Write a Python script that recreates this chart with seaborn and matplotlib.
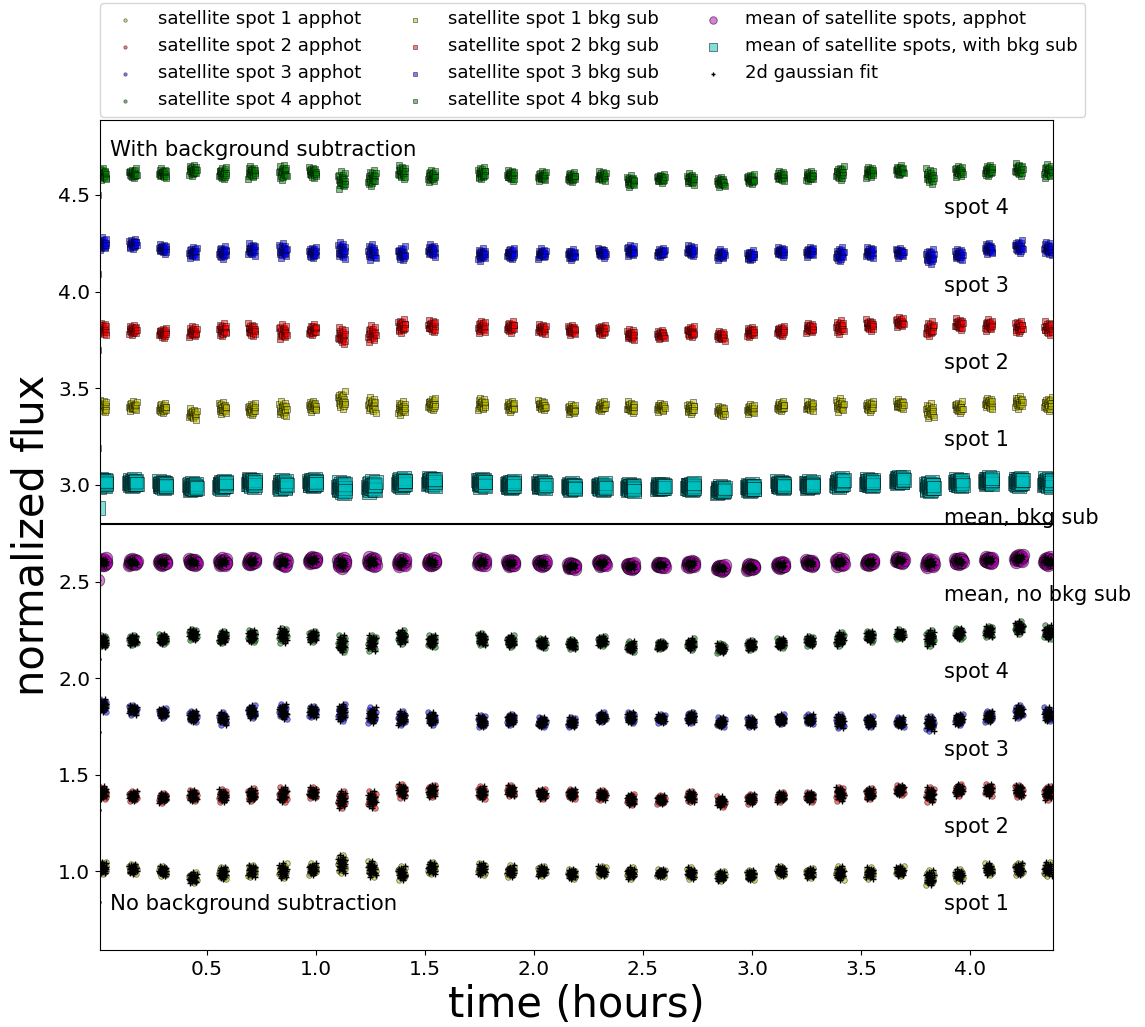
import numpy as np
import pandas as pd
import seaborn as sns
import matplotlib
matplotlib.use("Agg")
import matplotlib.pyplot as plt

# centre time (hours) of each exposure cluster
cluster_hours = [0.023, 0.161, 0.298, 0.436, 0.573, 0.706, 0.849, 0.986, 1.119, 1.257,
                 1.394, 1.532, 1.761, 1.894, 2.037, 2.174, 2.312, 2.445, 2.583, 2.720,
                 2.858, 2.995, 3.133, 3.266, 3.404, 3.541, 3.679, 3.817, 3.950, 4.087,
                 4.225, 4.358]
first_hour = 0.0
# relative scatter size of each cluster
cluster_spread = [1.0, 0.8, 0.8, 0.9, 1.0, 1.0, 1.2, 0.9, 1.4, 1.3, 1.1, 1.0, 1.0, 0.9, 0.8, 0.8,
                  0.8, 0.9, 0.7, 0.9, 0.8, 0.8, 0.8, 0.8, 1.1, 0.9, 0.8, 1.2, 0.9, 0.9, 1.0, 1.1]
# exposure pattern inside one cluster
dt_pattern = [-0.017, -0.015, -0.013, -0.012, -0.010, -0.008, -0.007, -0.005, -0.003, -0.002,
              0.000, 0.002, 0.004, 0.005, 0.007, 0.009, 0.011, 0.012, 0.014, 0.016]
df_pattern = [0.012, -0.008, 0.020, -0.015, 0.004, -0.022, 0.009, 0.027, -0.003, -0.012,
              0.016, -0.030, 0.001, 0.022, -0.018, 0.006, -0.006, 0.035, -0.010, 0.013]

# with background subtraction (offset levels)
bkg_spot1 = [3.405, 3.405, 3.395, 3.365, 3.395, 3.39, 3.39, 3.405, 3.435, 3.41, 3.395, 3.415, 3.415, 3.405, 3.41, 3.39,
             3.405, 3.40, 3.40, 3.395, 3.38, 3.39, 3.405, 3.405, 3.41, 3.405, 3.415, 3.38, 3.40, 3.42, 3.425, 3.415]
bkg_spot2 = [3.805, 3.80, 3.785, 3.79, 3.80, 3.80, 3.79, 3.80, 3.77, 3.78, 3.82, 3.82, 3.815, 3.815, 3.805, 3.80,
             3.80, 3.775, 3.775, 3.79, 3.77, 3.79, 3.795, 3.81, 3.815, 3.825, 3.84, 3.805, 3.83, 3.825, 3.815, 3.81]
bkg_spot3 = [4.245, 4.245, 4.22, 4.20, 4.20, 4.215, 4.21, 4.20, 4.21, 4.20, 4.195, 4.21, 4.19, 4.195, 4.195, 4.19,
             4.20, 4.21, 4.20, 4.21, 4.19, 4.185, 4.205, 4.205, 4.19, 4.20, 4.20, 4.18, 4.19, 4.22, 4.23, 4.22]
bkg_spot4 = [4.605, 4.61, 4.61, 4.625, 4.61, 4.615, 4.615, 4.615, 4.575, 4.585, 4.615, 4.595, 4.61, 4.60, 4.595, 4.59,
             4.595, 4.57, 4.585, 4.58, 4.565, 4.58, 4.595, 4.595, 4.61, 4.615, 4.625, 4.595, 4.62, 4.625, 4.63, 4.62]
bkg_mean = [3.01, 3.01, 3.0, 2.99, 3.0, 3.01, 3.0, 3.01, 2.985, 2.99, 3.01, 3.015, 3.01, 3.0, 3.0, 2.99,
            2.99, 2.985, 2.99, 2.99, 2.975, 2.985, 3.0, 3.0, 3.01, 3.01, 3.025, 2.99, 3.01, 3.02, 3.015, 3.01]

# aperture photometry, no background subtraction
app_spot1 = [1.015, 1.01, 1.0, 0.965, 0.99, 1.0, 1.0, 1.01, 1.035, 1.01, 0.99, 1.015, 1.01, 1.0, 1.0, 0.985,
             1.0, 0.99, 0.99, 0.99, 0.975, 0.98, 1.0, 0.99, 0.99, 0.99, 1.0, 0.965, 0.98, 1.01, 1.01, 1.01]
app_spot2 = [1.405, 1.39, 1.38, 1.39, 1.39, 1.395, 1.395, 1.405, 1.37, 1.37, 1.415, 1.415, 1.405, 1.415, 1.40, 1.40,
             1.395, 1.37, 1.37, 1.385, 1.36, 1.375, 1.385, 1.385, 1.40, 1.40, 1.42, 1.395, 1.42, 1.42, 1.415, 1.405]
app_spot3 = [1.855, 1.835, 1.82, 1.80, 1.79, 1.825, 1.825, 1.825, 1.82, 1.805, 1.79, 1.79, 1.775, 1.785, 1.77, 1.77,
             1.795, 1.795, 1.79, 1.795, 1.77, 1.77, 1.785, 1.785, 1.775, 1.775, 1.77, 1.765, 1.785, 1.80, 1.825, 1.81]
app_spot4 = [2.19, 2.195, 2.20, 2.225, 2.21, 2.215, 2.22, 2.215, 2.175, 2.18, 2.21, 2.19, 2.20, 2.19, 2.18, 2.175,
             2.19, 2.16, 2.17, 2.175, 2.155, 2.17, 2.18, 2.19, 2.20, 2.215, 2.225, 2.205, 2.23, 2.24, 2.26, 2.235]
app_mean = [2.60, 2.60, 2.60, 2.60, 2.60, 2.605, 2.60, 2.61, 2.595, 2.60, 2.60, 2.60, 2.60, 2.595, 2.595, 2.58,
            2.595, 2.58, 2.585, 2.59, 2.57, 2.575, 2.585, 2.595, 2.60, 2.60, 2.61, 2.595, 2.605, 2.61, 2.62, 2.605]

# first (low) exposure of every series, at first_hour
first_bkg = [3.19, 3.70, 4.09, 4.50, 2.88]
first_app = [0.84, 1.32, 1.72, 2.10, 2.51]

row_labels_bkg = ["spot 1", "spot 2", "spot 3", "spot 4", "mean, bkg sub"]
row_labels_app = ["spot 1", "spot 2", "spot 3", "spot 4", "mean, no bkg sub"]
label_levels_bkg = [3.2, 3.6, 4.0, 4.4, 2.8]
label_levels_app = [0.8, 1.2, 1.6, 2.0, 2.4]


def cloud(levels, first, spread, shift):
    times = [first_hour]
    flux = [first]
    n = len(df_pattern)
    for i, (c, lev) in enumerate(zip(cluster_hours, levels)):
        k = (i * 7 + shift) % n
        times.extend(c + np.array(dt_pattern))
        flux.extend(lev + np.roll(df_pattern, k) * spread * cluster_spread[i])
    return pd.DataFrame({"time": times, "flux": flux})


fig = plt.figure(figsize=(11.45, 10.27), dpi=100)
ax = fig.add_axes([0.0873, 0.075, 0.8324, 0.8082])

spot_colors = ["y", "r", "b", "g"]
app_spots = [app_spot1, app_spot2, app_spot3, app_spot4]
bkg_spots = [bkg_spot1, bkg_spot2, bkg_spot3, bkg_spot4]

for j in range(4):
    sns.scatterplot(data=cloud(app_spots[j], first_app[j], 1.0, 3 * j), x="time", y="flux", ax=ax,
                    marker="o", color=spot_colors[j], s=16, alpha=0.5, edgecolor="k", linewidth=0.6,
                    label=f"satellite spot {j + 1} apphot")
for j in range(4):
    sns.scatterplot(data=cloud(bkg_spots[j], first_bkg[j], 1.0, 3 * j + 5), x="time", y="flux", ax=ax,
                    marker="s", color=spot_colors[j], s=14, alpha=0.5, edgecolor="k", linewidth=0.6,
                    label=f"satellite spot {j + 1} bkg sub")

sns.scatterplot(data=cloud(app_mean, first_app[4], 0.55, 2), x="time", y="flux", ax=ax,
                marker="o", color="m", s=80, alpha=0.5, edgecolor="k", linewidth=0.7,
                label="mean of satellite spots, apphot")
sns.scatterplot(data=cloud(bkg_mean, first_bkg[4], 0.65, 9), x="time", y="flux", ax=ax,
                marker="s", color="c", s=110, alpha=0.5, edgecolor="k", linewidth=0.7,
                label="mean of satellite spots, with bkg sub")

gauss_levels = app_spots + [app_mean]
for j, lev in enumerate(gauss_levels):
    sns.scatterplot(data=cloud(lev, first_app[j], 1.0 if j < 4 else 0.55, 4 * j + 11), x="time", y="flux",
                    ax=ax, marker="+", color="k", s=14, linewidth=1.0,
                    label="2d gaussian fit" if j == 0 else None)

ax.axhline(2.8, color="k", linewidth=1.5)

for lab, lev in zip(row_labels_bkg + row_labels_app, label_levels_bkg + label_levels_app):
    ax.text(3.88, lev, lab, fontsize=15)
ax.text(0.055, 4.7, "With background subtraction", fontsize=15.3)
ax.text(0.055, 0.8, "No background subtraction", fontsize=15.3)

ax.set_xlim(0.009, 4.381)
ax.set_ylim(0.594, 4.888)
ax.set_xticks([0.5, 1.0, 1.5, 2.0, 2.5, 3.0, 3.5, 4.0])
ax.set_yticks([1.0, 1.5, 2.0, 2.5, 3.0, 3.5, 4.0, 4.5])
ax.tick_params(labelsize=14.5)
ax.set_xlabel("time (hours)", fontsize=30)
ax.set_ylabel("normalized flux", fontsize=30)

ax.legend(loc="lower left", bbox_to_anchor=(0.0, 1.004), ncol=3, fontsize=13,
          borderaxespad=0.0, markerscale=0.6)

fig.savefig("out.png", dpi=100)
